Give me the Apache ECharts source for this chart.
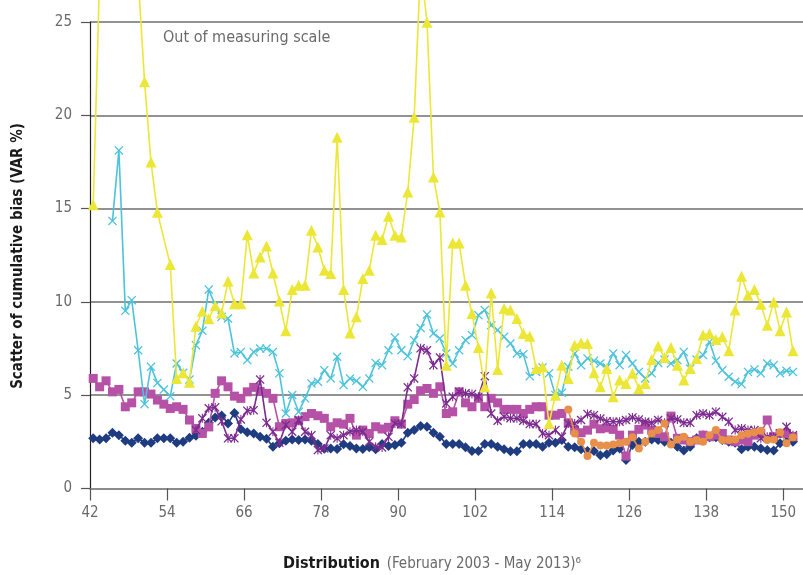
<!DOCTYPE html>
<html>
<head>
<meta charset="utf-8">
<script src="https://cdn.jsdelivr.net/npm/echarts@6/dist/echarts.min.js"></script>
<style>
html,body{margin:0;padding:0;background:#fff;}
#chart{width:803px;height:575px;}
</style>
</head>
<body>
<div id="chart"></div>
<script>
// Distribution index of the first observation (points sit mid-period)
const firstPeriod = 42.5;
const xTickLabels = [42, 54, 66, 78, 90, 102, 114, 126, 138, 150];

const yellow = [15.2,27.5,31,33,32,30,29,27.4,21.8,17.5,14.8,null,12.0,5.9,6.2,5.7,8.7,9.5,9.1,9.8,
  9.4,11.1,9.9,9.9,13.6,11.55,12.4,13.0,11.55,10.05,8.45,10.66,10.89,10.89,13.84,12.94,11.7,11.52,18.83,10.66,
  8.34,9.2,11.25,11.7,13.57,13.34,14.59,13.57,13.48,15.89,19.9,28,24.99,16.69,14.82,6.61,13.15,13.15,10.89,9.38,
  7.56,5.45,10.48,6.38,9.65,9.56,9.11,8.31,8.16,6.43,6.52,3.49,5.0,6.61,5.9,7.68,7.8,7.77,6.2,5.45,
  6.43,4.92,5.81,5.63,6.17,5.36,5.63,6.91,7.63,7.02,7.56,6.61,5.81,6.43,6.97,8.22,8.31,7.99,8.13,7.38,
  9.56,11.38,10.36,10.66,9.88,8.75,10.0,8.45,9.46,7.38];

const cyan = [null,null,null,14.34,18.12,9.52,10.09,7.41,4.52,6.52,5.66,5.3,4.95,6.70,6.20,5.84,7.68,8.45,10.66,9.82,
  9.20,9.11,7.24,7.32,6.88,7.32,7.50,7.50,7.32,6.17,4.02,5.01,4.11,4.83,5.63,5.72,6.34,5.90,7.06,5.54,
  5.90,5.77,5.45,5.90,6.73,6.61,7.41,8.09,7.41,7.09,7.95,8.6,9.33,8.31,8.04,7.24,6.70,7.41,7.95,8.22,
  9.29,9.56,8.75,8.49,8.13,7.77,7.24,7.20,6.02,6.25,6.49,6.17,5.01,5.13,6.52,7.24,6.61,6.97,6.84,6.70,
  6.5,7.24,6.61,7.15,6.70,6.25,5.90,6.17,6.73,6.91,6.70,6.88,7.32,6.43,6.91,7.15,7.86,6.84,6.34,5.99,
  5.72,5.59,6.25,6.38,6.17,6.70,6.61,6.17,6.31,6.25];

const squares = [5.90,5.45,5.77,5.18,5.31,4.38,4.59,5.18,5.18,5.06,4.74,4.52,4.29,4.38,4.24,3.67,3.22,2.95,3.3,5.10,
  5.77,5.45,4.95,4.83,5.18,5.42,5.2,5.10,4.83,3.31,3.49,3.52,3.63,3.85,4.02,3.90,3.76,3.31,3.52,3.45,
  3.76,2.86,3.13,2.95,3.31,3.19,3.28,3.63,3.45,4.52,4.77,5.24,5.36,5.10,5.45,4.02,4.11,5.18,4.59,4.38,
  4.83,4.38,4.83,4.59,4.24,4.24,4.24,4.02,4.24,4.38,4.38,3.93,3.93,4.02,3.52,3.13,2.99,3.13,3.45,3.2,
  3.25,3.17,2.86,1.74,2.86,3.17,3.40,3.13,2.95,2.77,3.88,2.69,2.60,2.51,2.60,2.86,2.77,2.86,2.95,2.60,
  2.51,2.60,2.51,2.86,2.95,3.67,2.77,2.95,2.95,2.77];

const stars = [null,null,null,null,null,null,null,null,null,null,null,null,null,null,null,null,3.13,3.76,4.3,4.35,
  3.6,2.69,2.69,3.70,4.17,4.20,5.84,3.52,3.04,2.45,3.40,3.04,3.67,3.04,2.86,2.06,2.15,2.86,2.69,2.86,
  3.04,3.13,3.04,2.51,2.24,2.20,2.77,3.49,3.45,5.42,5.90,7.51,7.41,6.61,7.02,4.56,4.92,5.18,5.10,5.06,
  4.92,6.02,4.02,3.63,3.85,3.76,3.76,3.63,3.45,3.45,2.95,2.86,3.13,2.77,3.49,3.49,3.67,3.99,3.93,3.75,
  3.6,3.58,3.58,3.67,3.81,3.70,3.58,3.52,3.67,3.52,3.76,3.70,3.52,3.52,3.93,4.02,3.93,4.11,3.84,3.58,
  3.13,3.22,3.13,3.13,2.69,2.77,2.77,2.95,3.31,2.86];

const navy = [2.69,2.63,2.69,2.99,2.85,2.56,2.45,2.69,2.45,2.45,2.69,2.69,2.69,2.45,2.51,2.72,2.83,3.04,3.53,3.80,
  3.91,3.49,4.04,3.17,3.01,2.95,2.78,2.67,2.24,2.42,2.56,2.63,2.60,2.63,2.56,2.38,2.13,2.15,2.12,2.37,
  2.28,2.15,2.12,2.21,2.10,2.38,2.28,2.33,2.45,2.99,3.13,3.35,3.31,2.99,2.78,2.38,2.38,2.38,2.21,2.01,
  2.01,2.38,2.38,2.24,2.10,1.99,1.99,2.38,2.38,2.38,2.24,2.45,2.45,2.60,2.24,2.21,2.10,2.01,2.01,1.78,
  1.83,2.03,2.15,1.53,2.33,2.51,2.51,2.63,2.60,2.51,2.45,2.24,2.03,2.24,2.69,2.86,2.74,2.74,2.60,2.51,
  2.45,2.11,2.24,2.24,2.15,2.06,2.03,2.42,2.51,2.51];

const orange = [null,null,null,null,null,null,null,null,null,null,null,null,null,null,null,null,null,null,null,null,
  null,null,null,null,null,null,null,null,null,null,null,null,null,null,null,null,null,null,null,null,
  null,null,null,null,null,null,null,null,null,null,null,null,null,null,null,null,null,null,null,null,
  null,null,null,null,null,null,null,null,null,null,null,null,null,null,4.24,2.95,2.51,1.74,2.45,2.3,
  2.3,2.36,2.42,2.51,2.74,2.15,2.51,2.95,3.13,3.49,2.36,2.63,2.77,2.51,2.60,2.51,2.86,3.13,2.60,2.60,
  2.63,2.86,2.95,3.01,3.10,2.60,2.63,3.01,2.42,2.74];

const FONT = "'Liberation Sans Narrow','DejaVu Sans Condensed','Roboto',sans-serif";

const xShape = 'path://M1,0L5,4L9,0L10,1L6,5L10,9L9,10L5,6L1,10L0,9L4,5L0,1Z';
const starShape = 'path://M1,0L5,4L9,0L10,1L6,5L10,9L9,10L5,6L1,10L0,9L4,5L0,1Z M4.4,0L5.6,0L5.6,10L4.4,10Z';

function toPts(vals) { return vals.map((v, i) => [firstPeriod + i, v]); }

function mk(name, vals, color, symbol, size, z) {
  return {
    name, type: 'line', data: toPts(vals), connectNulls: true, clip: false,
    symbol, symbolSize: size, showSymbol: true, z,
    lineStyle: { color, width: 1.6 },
    itemStyle: { color, borderWidth: 0 },
    emphasis: { disabled: true },
    animation: false
  };
}

const chart = echarts.init(document.getElementById('chart'), null, { renderer: 'canvas' });
chart.setOption({
  backgroundColor: '#fff',
  animation: false,
  grid: { left: 90, right: 0, top: 22, bottom: 86.5, containLabel: false },
  xAxis: {
    type: 'value', min: 42, max: 153.07,
    axisLine: { show: true, lineStyle: { color: '#8a8a8a', width: 1.5 } },
    axisTick: { show: true, length: 12, lineStyle: { color: '#555', width: 1.2 }, customValues: xTickLabels },
    axisLabel: { customValues: xTickLabels, color: '#6a6a6a', fontSize: 15, margin: 17, fontFamily: FONT },
    splitLine: { show: false }
  },
  yAxis: {
    type: 'value', min: 0, max: 25, interval: 5,
    axisLine: { show: true, lineStyle: { color: '#222', width: 1.2 } },
    axisTick: { show: true, length: 9, lineStyle: { color: '#555', width: 1.2 } },
    axisLabel: { color: '#6a6a6a', fontSize: 15, margin: 18, fontFamily: FONT },
    splitLine: { show: true, lineStyle: { color: '#6e6e6e', width: 1.5 } }
  },
  graphic: [
    { type: 'text', x: 163, y: 38,
      style: { text: 'Out of measuring scale', fill: '#6a6a6a', font: "16px " + FONT, textVerticalAlign: 'middle' } },
    { type: 'text', x: 18, y: 256, rotation: Math.PI / 2,
      style: { text: 'Scatter of cumulative bias (VAR %)', fill: '#1a1a1a', font: "bold 15px " + FONT,
               textAlign: 'center', textVerticalAlign: 'middle' } },
    { type: 'text', x: 432, y: 564,
      style: { rich: { b: { fontWeight: 'bold', fontSize: 16, fill: '#1a1a1a', fontFamily: FONT },
                       n: { fontSize: 15, fill: '#6a6a6a', fontFamily: FONT } },
               text: '{b|Distribution}  {n|(February 2003 - May 2013)⁶}',
               textAlign: 'center', textVerticalAlign: 'middle' } }
  ],
  series: [
    mk('navy', navy, '#1f3c80', 'diamond', 10, 2),
    mk('squares', squares, '#b551a6', 'rect', 9, 3),
    mk('stars', stars, '#7c2b8f', starShape, 9, 4),
    mk('cyan', cyan, '#4dc3db', xShape, 9, 5),
    mk('yellow', yellow, '#ece737', 'triangle', 11, 6),
    mk('orange', orange, '#e8904a', 'circle', 8, 7)
  ]
});
</script>
</body>
</html>
